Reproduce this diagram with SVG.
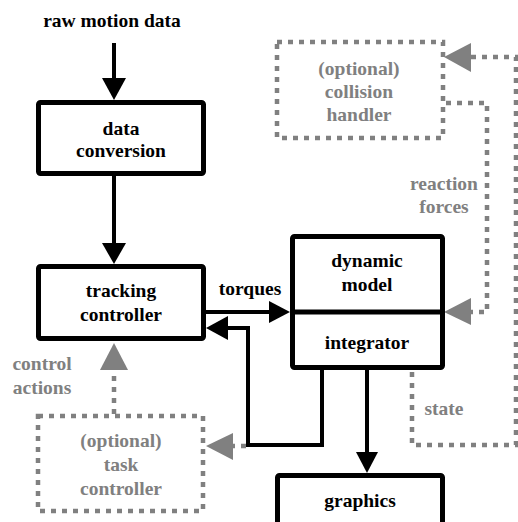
<svg xmlns="http://www.w3.org/2000/svg" width="518" height="522" viewBox="0 0 518 522">
<style>
  .box { fill: #fff; stroke: #000; stroke-width: 5; }
  .dbox { fill: none; stroke: #808080; stroke-width: 4.5; stroke-dasharray: 5 6; }
  text { font-family: 'Liberation Serif', 'DejaVu Serif', serif; font-weight: bold; font-size: 19.5px; text-anchor: middle; fill: #000; }
  text.g { fill: #808080; }
  .ln { fill: none; stroke: #000; stroke-width: 4; }
  .dl { fill: none; stroke: #808080; stroke-width: 4.5; stroke-dasharray: 5 6; }
  .ah { fill: #000; }
  .ahg { fill: #808080; }
</style>
<rect width="518" height="522" fill="#fff"/>
<g id="connectors">
  <line class="ln" x1="114" y1="43" x2="114" y2="80"/>
  <polygon class="ah" points="102,78 126,78 114,100"/>
  <line class="ln" x1="114" y1="176" x2="114" y2="245"/>
  <polygon class="ah" points="102,243 126,243 114,264"/>
  <line class="ln" x1="206" y1="312" x2="271" y2="312"/>
  <polygon class="ah" points="269,301 269,323 290,312"/>
  <polyline class="ln" points="322,370 322,445 248,445 248,328 226,328"/>
  <polygon class="ah" points="228,316 228,340 206,328"/>
  <line class="dl" x1="246" y1="446" x2="232" y2="446"/>
  <polygon class="ahg" points="233,433 233,460 206,446"/>
  <line class="dl" x1="114" y1="414" x2="114" y2="370"/>
  <polygon class="ahg" points="100,370 128,370 114,343"/>
  <line class="ln" x1="367" y1="370" x2="367" y2="454"/>
  <polygon class="ah" points="356,452 378,452 367,473"/>
  <polyline class="dl" points="412,372 412,445 516,445 516,57 471,57"/>
  <polygon class="ahg" points="471,43 471,72 444,57"/>
  <polyline class="dl" points="446,103 487,103 487,312 471,312"/>
  <polygon class="ahg" points="471,298 471,325 444,312"/>
  <text x="250" y="295" font-family="Liberation Serif, serif">torques</text>
  <text class="g" x="42" y="370" font-family="Liberation Serif, serif">control</text>
  <text class="g" x="42" y="394" font-family="Liberation Serif, serif">actions</text>
  <text class="g" x="444" y="190" font-family="Liberation Serif, serif">reaction</text>
  <text class="g" x="444" y="213" font-family="Liberation Serif, serif">forces</text>
  <text class="g" x="444" y="415" font-family="Liberation Serif, serif">state</text>
</g>
<g id="raw-motion-data">
  <text x="112" y="27" font-family="Liberation Serif, serif">raw motion data</text>
</g>
<g id="data-conversion">
  <rect class="box" x="38.5" y="102.5" width="165" height="71" rx="2"/>
  <text x="121" y="135" font-family="Liberation Serif, serif">data</text>
  <text x="121" y="157" font-family="Liberation Serif, serif">conversion</text>
</g>
<g id="tracking-controller">
  <rect class="box" x="38.5" y="266.5" width="165" height="72" rx="2"/>
  <text x="121" y="297" font-family="Liberation Serif, serif">tracking</text>
  <text x="121" y="321" font-family="Liberation Serif, serif">controller</text>
</g>
<g id="dynamic-model">
  <rect class="box" x="292.5" y="236.5" width="150" height="131" rx="2"/>
  <line x1="292" y1="312" x2="443" y2="312" stroke="#000" stroke-width="5"/>
  <text x="367" y="267" font-family="Liberation Serif, serif">dynamic</text>
  <text x="367" y="291" font-family="Liberation Serif, serif">model</text>
  <text x="367" y="349" font-family="Liberation Serif, serif">integrator</text>
</g>
<g id="graphics">
  <rect class="box" x="277.5" y="475.5" width="165" height="60" rx="2"/>
  <text x="360" y="507" font-family="Liberation Serif, serif">graphics</text>
</g>
<g id="collision-handler">
  <rect class="dbox" x="277" y="42" width="166" height="96"/>
  <text class="g" x="359" y="75" font-family="Liberation Serif, serif">(optional)</text>
  <text class="g" x="359" y="98" font-family="Liberation Serif, serif">collision</text>
  <text class="g" x="359" y="121" font-family="Liberation Serif, serif">handler</text>
</g>
<g id="task-controller">
  <rect class="dbox" x="38" y="416" width="165" height="95"/>
  <text class="g" x="121" y="447" font-family="Liberation Serif, serif">(optional)</text>
  <text class="g" x="121" y="471" font-family="Liberation Serif, serif">task</text>
  <text class="g" x="121" y="495" font-family="Liberation Serif, serif">controller</text>
</g>
</svg>
